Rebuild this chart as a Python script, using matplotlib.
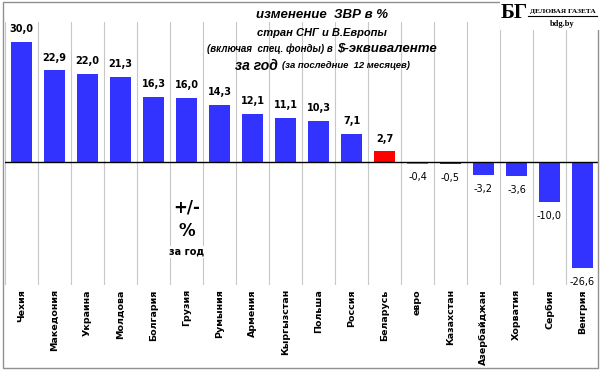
import matplotlib
matplotlib.use("Agg")
import matplotlib.pyplot as plt
from matplotlib.patches import Rectangle

# ─── Datos ────────────────────────────────────────────
paises = ["Чехия", "Македония", "Украина", "Молдова", "Болгария", "Грузия",
          "Румыния", "Армения", "Кыргызстан", "Польша", "Россия", "Беларусь",
          "евро", "Казахстан", "Азербайджан", "Хорватия", "Сербия", "Венгрия"]
valores = [30.0, 22.9, 22.0, 21.3, 16.3, 16.0, 14.3, 12.1, 11.1, 10.3, 7.1, 2.7,
           -0.4, -0.5, -3.2, -3.6, -10.0, -26.6]
etiquetas = ["30,0", "22,9", "22,0", "21,3", "16,3", "16,0", "14,3", "12,1", "11,1",
             "10,3", "7,1", "2,7", "-0,4", "-0,5", "-3,2", "-3,6", "-10,0", "-26,6"]

AZUL = "#3333FF"
colores = [AZUL] * len(paises)
colores[paises.index("Беларусь")] = "#FF0000"
colores[paises.index("евро")] = "#33AACC"
colores[paises.index("Казахстан")] = "#333399"

plt.rcParams["font.family"] = ["DejaVu Sans"]

fig = plt.figure(figsize=(6.0, 3.71), dpi=100)
ax = fig.add_axes([5 / 600, 1 - 285 / 371, 594 / 600, 263 / 371])

x = range(len(paises))
ax.bar(x, valores, width=0.62, color=colores, zorder=3)

for i in range(len(paises) + 1):
    ax.axvline(i - 0.5, color="#C8C8C8", lw=0.8, zorder=1)
ax.axhline(0, color="black", lw=1.0, zorder=4)

for i, (v, t) in enumerate(zip(valores, etiquetas)):
    if v >= 0:
        ax.annotate(t, (i, v), xytext=(0, 9), textcoords="offset points",
                    ha="center", va="center", fontsize=7, fontweight="bold")
    else:
        ax.annotate(t, (i, v), xytext=(0, -10), textcoords="offset points",
                    ha="center", va="center", fontsize=7)

ax.set_xlim(-0.5, len(paises) - 0.5)
ax.set_ylim(-30.75, 35)
ax.set_xticks(list(x))
ax.set_xticklabels(paises, rotation=90, fontsize=6.8, fontweight="bold", va="top")
ax.tick_params(axis="x", length=0, pad=3)
ax.set_yticks([])
for s in ax.spines.values():
    s.set_visible(False)

# caja "+/- % за год"
ax.text(5, -11.5, "+/-", ha="center", va="center", fontsize=12, fontweight="bold",
        bbox=dict(facecolor="white", edgecolor="none", pad=1), zorder=5)
ax.text(5, -17.2, "%", ha="center", va="center", fontsize=12, fontweight="bold",
        bbox=dict(facecolor="white", edgecolor="none", pad=1), zorder=5)
ax.text(5, -22.5, "за год", ha="center", va="center", fontsize=7, fontweight="bold",
        bbox=dict(facecolor="white", edgecolor="none", pad=1), zorder=5)

# ─── Título (texto mixto) ────────────────────────────
fig.canvas.draw()
renderer = fig.canvas.get_renderer()


def linea(y_px, partes, cx=322, hueco=4):
    """Escribe una línea centrada en cx compuesta por partes (texto, tamaño)."""
    textos = []
    for s, size in partes:
        t = fig.text(0, 1 - y_px / 371, s, fontsize=size, fontweight="bold",
                     style="italic", va="center", ha="left",
                     family="Liberation Sans")
        textos.append(t)
    anchos = [t.get_window_extent(renderer).width for t in textos]
    total = sum(anchos) + hueco * (len(textos) - 1)
    x0 = cx - total / 2
    for t, w in zip(textos, anchos):
        t.set_x(x0 / 600)
        x0 += w + hueco


linea(15, [("изменение  ЗВР в %", 9.5)])
linea(33, [("стран СНГ и В.Европы", 8)])
linea(49, [("(включая  спец. фонды) в", 7), ("\\$-эквиваленте", 9.5)])
linea(66, [("за год", 10), ("(за последние  12 месяцев)", 6.8)])

# ─── Logo ────────────────────────────────────────────
fig.patches.append(Rectangle((500 / 600, 1 - 30 / 371), 100 / 600, 30 / 371,
                             transform=fig.transFigure, facecolor="white",
                             edgecolor="none", zorder=5))
fig.text(514 / 600, 1 - 13 / 371, "БГ", fontsize=15, fontweight="bold",
         family="Liberation Serif", ha="center", va="center", zorder=6)
fig.text(563 / 600, 1 - 11 / 371, "ДЕЛОВАЯ ГАЗЕТА", fontsize=5.3, fontweight="bold",
         family="Liberation Serif", ha="center", va="center", zorder=6)
fig.lines.append(plt.Line2D([528 / 600, 597 / 600], [1 - 16 / 371, 1 - 16 / 371],
                            transform=fig.transFigure, color="black", lw=0.8, zorder=6))
fig.text(562 / 600, 1 - 24 / 371, "bdg.by", fontsize=6, fontweight="bold",
         family="Liberation Serif", ha="center", va="center", zorder=6)

# marco
fig.patches.append(Rectangle((3 / 600, 3 / 371), 595 / 600, 366 / 371,
                             transform=fig.transFigure, facecolor="none",
                             edgecolor="#909090", lw=1.0))

fig.savefig("out.png", dpi=100)
